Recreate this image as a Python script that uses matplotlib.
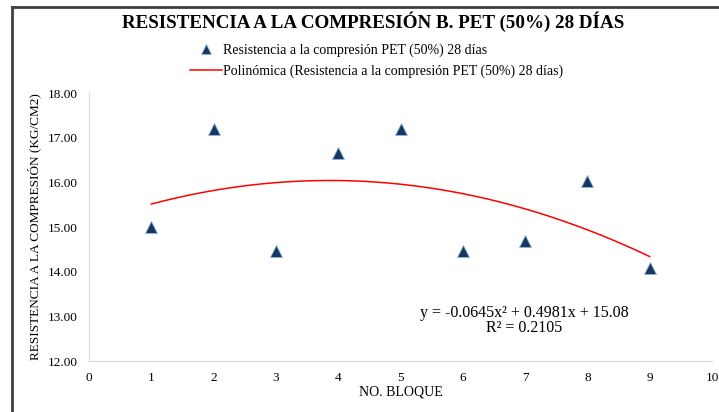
import numpy as np
import matplotlib.pyplot as plt
from matplotlib.lines import Line2D

# datos
bloques = [1, 2, 3, 4, 5, 6, 7, 8, 9]
resistencia = [15.00, 17.20, 14.47, 16.66, 17.20, 14.47, 14.68, 16.03, 14.09]

# coeficientes de la linea de tendencia (del texto de la ecuacion)
coef = [-0.0645, 0.4981, 15.08]
r2 = 0.2105

plt.rcParams['font.family'] = ['Liberation Serif', 'DejaVu Serif']

fig = plt.figure(figsize=(7.19, 4.12), dpi=100)
ax = fig.add_axes([89 / 719, 1 - 361 / 412, (712 - 89) / 719, (361 - 93) / 412])

ax.plot(bloques, resistencia, linestyle='none', marker='^', markersize=9,
        color='#17375E', markeredgecolor='#8EB4E3', markeredgewidth=0.6)

xs = np.linspace(min(bloques), max(bloques), 200)
ax.plot(xs, np.polyval(coef, xs), color='#FF0000', linewidth=1.1)

ax.set_xlim(0, 10)
ax.set_ylim(12, 18)
ax.set_xticks(range(0, 11))
ax.set_yticks(np.arange(12, 18.01, 1))
ax.set_yticklabels([f'{v:.2f}' for v in np.arange(12, 18.01, 1)])
ax.tick_params(length=0, labelsize=9.5, pad=8)
for s in ['top', 'right']:
    ax.spines[s].set_visible(False)
for s in ['left', 'bottom']:
    ax.spines[s].set_color('#D9D9D9')

ax.set_xlabel('NO. BLOQUE', fontsize=10, labelpad=1)
ax.set_ylabel('RESISTENCIA A LA COMPRESIÓN (KG/CM2)', fontsize=9.5, labelpad=5)

ax.text(6.98, 12.9, f'y = {coef[0]}x² + {coef[1]}x + {coef[2]}\nR² = {r2}',
        ha='center', va='center', fontsize=11.5, linespacing=0.9)

fig.text(0.519, 1 - 22 / 412, 'RESISTENCIA A LA COMPRESIÓN B. PET (50%) 28 DÍAS',
         ha='center', va='center', fontsize=13.7, fontweight='bold')

h1 = Line2D([], [], linestyle='none', marker='^', markersize=7, color='#17375E',
            markeredgecolor='#8EB4E3', markeredgewidth=0.6)
h2 = Line2D([], [], color='#FF0000', linewidth=1.1)
fig.legend([h1, h2], ['Resistencia a la compresión PET (50%) 28 días',
                      'Polinómica (Resistencia a la compresión PET (50%) 28 días)'],
           loc='center left', bbox_to_anchor=(190 / 719, 1 - 61 / 412), frameon=False,
           fontsize=10, handlelength=2.3, handletextpad=0.1, labelspacing=0.55,
           borderpad=0, borderaxespad=0)

# marco del grafico
fig.add_artist(Line2D([12 / 719, 12 / 719], [0, 1 - 7 / 412], color='#404040', linewidth=2))
fig.add_artist(Line2D([12 / 719, 1], [1 - 7 / 412, 1 - 7 / 412], color='#404040', linewidth=2))

fig.savefig('out.png', dpi=100)
